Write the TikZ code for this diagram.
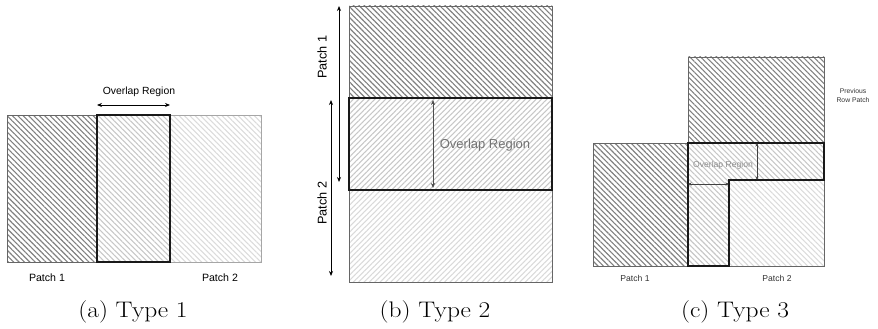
\documentclass[tikz,border=0pt]{standalone}
\usepackage{fontspec}
\newfontfamily\arial{Liberation Sans}
\usetikzlibrary{patterns.meta,arrows.meta}
\tikzset{
  darkhatch/.style={pattern={Lines[angle=-45,distance=3.8pt,line width=1.1pt]},pattern color=black!50},
  midhatch/.style={pattern={Lines[angle=-45,distance=3.8pt,line width=1.1pt]},pattern color=black!22},
  lighthatch/.style={pattern={Lines[angle=-45,distance=3.8pt,line width=1.1pt]},pattern color=black!14},
  midhatchne/.style={pattern={Lines[angle=45,distance=3.8pt,line width=1.1pt]},pattern color=black!22},
  lighthatchne/.style={pattern={Lines[angle=45,distance=3.8pt,line width=1.1pt]},pattern color=black!15},
  thinborder/.style={draw=black!60,line width=0.9pt},
  lightborder/.style={draw=black!35,line width=0.9pt},
  thickborder/.style={draw=black!90,line width=1.4pt},
  dimarrow/.style={{Stealth[length=5pt,width=4pt]}-{Stealth[length=5pt,width=4pt]},line width=0.8pt,black},
  smallarrow/.style={{Stealth[length=3.5pt,width=3pt]}-{Stealth[length=3.5pt,width=3pt]},line width=0.6pt,black!75},
  lab/.style={font=\arial\fontsize{10.6}{12}\selectfont,inner sep=0pt},
  captext/.style={font=\fontsize{22.5}{26}\selectfont,inner sep=0pt}
}
\newcommand{\capbox}[1]{\scalebox{1.13}[1]{#1}}
\begin{document}
\begin{tikzpicture}[x=1pt,y=-1pt]
\useasboundingbox (0,0) rectangle (878,329);
% ---------- Type 1 ----------
\fill[white] (7,115) rectangle (261,262);
\path[darkhatch] (7,115) rectangle (97,262);
\path[midhatch] (97,115) rectangle (170,262);
\path[lighthatch] (170,115) rectangle (261,262);
\draw[lightborder] (7,115) rectangle (261,262);
\draw[thinborder] (7,115) rectangle (97,262);
\draw[thickborder] (97,115) rectangle (170,262);
\coordinate (a1) at (97,105);
\coordinate (a2) at (170,105);
\draw[dimarrow] (a1) -- (a2);
\node[lab,font=\arial\fontsize{10.4}{12}\selectfont] (ovA) at (139,92) {Overlap Region};
\node[lab] (pA1) at (47,278) {Patch 1};
\node[lab] (pA2) at (220,278) {Patch 2};
\node[captext] (capA) at (133,312) {\capbox{(a) Type 1}};
% ---------- Type 2 ----------
\path[darkhatch] (349,6) rectangle (552,98);
\path[midhatchne] (349,98) rectangle (552,190);
\path[lighthatchne] (349,190) rectangle (552,282);
\draw[thinborder] (349,6) rectangle (552,282);
\draw[thickborder] (349,98) rectangle (552,190);
\coordinate (b1t) at (339,6);
\coordinate (b1b) at (339,182);
\coordinate (b2t) at (331,100);
\coordinate (b2b) at (331,276);
\draw[dimarrow] (b1t) -- (b1b);
\draw[dimarrow] (b2t) -- (b2b);
\coordinate (bot) at (433,100);
\coordinate (bob) at (433,188);
\draw[dimarrow,line width=0.6pt,black!70] (bot) -- (bob);
\node[lab,font=\arial\fontsize{13}{15}\selectfont,text=black!55] (ovB) at (485,145) {Overlap Region};
\node[lab,font=\arial\fontsize{12.7}{15}\selectfont,rotate=90] (pB1) at (322,57) {Patch 1};
\node[lab,font=\arial\fontsize{12.7}{15}\selectfont,rotate=90] (pB2) at (322,203) {Patch 2};
\node[captext] (capB) at (435,312) {\capbox{(b) Type 2}};
% ---------- Type 3 ----------
\path[darkhatch] (688,57) rectangle (824,143);
\path[darkhatch] (593,143) rectangle (688,266);
\path[midhatch] (688,143) -- (824,143) -- (824,180) -- (729,180) -- (729,266) -- (688,266) -- cycle;
\path[lighthatch] (729,180) rectangle (824,266);
\draw[thinborder] (688,57) rectangle (824,143);
\draw[thinborder] (593,143) rectangle (688,266);
\draw[thinborder] (729,180) rectangle (824,266);
\draw[thickborder] (688,143) -- (824,143) -- (824,180) -- (729,180) -- (729,266) -- (688,266) -- cycle;
\coordinate (cvt) at (757,143);
\coordinate (cvb) at (757,180);
\coordinate (chl) at (688,184);
\coordinate (chr) at (729,184);
\draw[smallarrow] (cvt) -- (cvb);
\draw[smallarrow] (chl) -- (chr);
\node[lab,font=\arial\fontsize{8.6}{10}\selectfont,text=black!45] (ovC) at (723,165) {Overlap Region};
\node[lab,font=\arial\fontsize{6.8}{9}\selectfont,align=center,text=black!80] (prev) at (853,96) {Previous\\Row Patch};
\node[lab,font=\arial\fontsize{8.6}{10}\selectfont,text=black!80] (pC1) at (635,278) {Patch 1};
\node[lab,font=\arial\fontsize{8.6}{10}\selectfont,text=black!80] (pC2) at (777,278) {Patch 2};
\node[captext] (capC) at (735,312) {\capbox{(c) Type 3}};
\end{tikzpicture}
\end{document}
